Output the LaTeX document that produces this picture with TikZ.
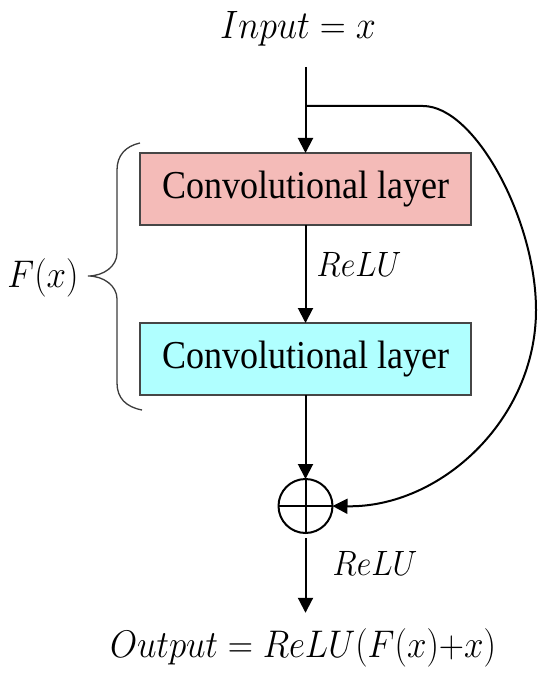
\RequirePackage{fix-cm}
\documentclass[tikz,border=0pt]{standalone}
\usepackage{graphicx}
\usepackage{fontspec}
\newfontfamily\boxfont{Liberation Serif}
\usetikzlibrary{arrows.meta}
\definecolor{convpink}{RGB}{244,187,184}
\definecolor{convcyan}{RGB}{176,255,255}
\definecolor{edgegray}{RGB}{70,70,70}
\definecolor{bracegray}{RGB}{60,60,60}
\newcommand{\tallstr}[1]{\scalebox{1}[1.1]{#1}}
\begin{document}
\begin{tikzpicture}[x=1pt,y=-1pt,
  conv/.style={draw=edgegray,line width=1.5pt,minimum width=331pt,minimum height=72pt,inner sep=0pt,outer sep=0pt,font=\boxfont\fontsize{36}{40}\selectfont},
  lbl/.style={inner sep=0pt,outer sep=0pt},
  arr/.style={line width=2pt,-{Triangle[width=15pt,length=15pt]}},
  plus/.style={line width=2pt},
]
\useasboundingbox (0,0) rectangle (550,676);
% texts
\node[lbl,font=\fontsize{36}{40}\selectfont] (input) at (298,29) {\tallstr{$Input = x$}};
\node[lbl,font=\fontsize{35}{40}\selectfont] (output) at (303,648) {\tallstr{$Output = ReLU(F(x){+}x)$}};
\node[lbl,font=\fontsize{32}{40}\selectfont] (relu1) at (359,264) {\tallstr{$ReLU$}};
\node[lbl,font=\fontsize{32}{40}\selectfont] (relu2) at (375,563) {\tallstr{$ReLU$}};
\node[lbl,font=\fontsize{35}{40}\selectfont] (fx) at (43,278) {\tallstr{$F(x)$}};
% boxes
\node[conv,fill=convpink] (conv1) at (305.5,189) {\tallstr{Convolutional layer}};
\node[conv,fill=convcyan] (conv2) at (305.5,359) {\tallstr{Convolutional layer}};
\node[circle,draw,line width=2pt,minimum size=54pt,inner sep=0pt,outer sep=0pt] (sum) at (305.5,506) {};
\draw[plus] (sum.north) -- (sum.south) (sum.west) -- (sum.east);
% coordinates
\coordinate (start) at (305.5,67);
\coordinate (branch) at (305.5,106);
% connectors
\draw[arr] (start) -- (conv1.north);
\draw[arr] (conv1.south) -- (conv2.north);
\draw[arr] (conv2.south) -- (sum.north);
\draw[arr,shorten <=5pt,shorten >=16pt] (sum.south) -- (sum.south |- output.north);
\draw[arr] (branch) -- (423,106) .. controls (475,106) and (536,220) .. (536,310)
  .. controls (536,420) and (440,508) .. (sum.east);
% brace
\draw[bracegray,line width=1.3pt] (140,143) .. controls (126,146) and (117,155) .. (117,170)
  -- (117,253) .. controls (117,266) and (104,276) .. (88,276)
  .. controls (104,276) and (117,286) .. (117,299)
  -- (117,383) .. controls (117,398) and (126,407) .. (142,410);
\end{tikzpicture}
\end{document}
